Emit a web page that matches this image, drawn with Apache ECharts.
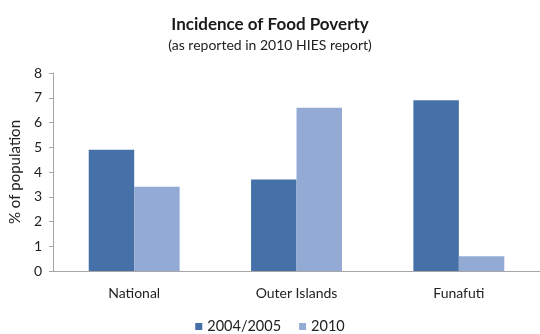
<!DOCTYPE html>
<html><head><meta charset="utf-8">
<script src="https://cdn.jsdelivr.net/npm/echarts@6/dist/echarts.min.js"></script>
<style>html,body{margin:0;padding:0;background:#fff}#c{width:540px;height:334px}</style>
</head><body><div id="c"></div>
<script>
const categories = ["National", "Outer Islands", "Funafuti"];
const series2004 = [4.9, 3.7, 6.9];
const series2010 = [3.4, 6.6, 0.6];
const seriesNames = ["2004/2005", "2010"];
const yTicks = [0, 1, 2, 3, 4, 5, 6, 7, 8];

const font = "Lato, 'Open Sans', sans-serif";
const chart = echarts.init(document.getElementById('c'), null, {renderer: 'canvas'});
chart.setOption({
  animation: false,
  backgroundColor: '#fff',
  title: {
    text: 'Incidence of Food Poverty',
    subtext: '(as reported in 2010 HIES report)',
    left: 'center', top: 11, itemGap: 5,
    textStyle: {fontFamily: font, fontSize: 17, fontWeight: 'bold', color: '#1a1a1a'},
    subtextStyle: {fontFamily: font, fontSize: 14, color: '#222'}
  },
  legend: {
    data: seriesNames, bottom: -5, left: 'center',
    itemWidth: 7, itemHeight: 7, itemGap: 18, icon: 'rect',
    textStyle: {fontFamily: font, fontSize: 14.5, color: '#222', padding: [0,0,0,0]}
  },
  grid: {left: 53, top: 73, width: 488, height: 198, containLabel: false},
  xAxis: {
    type: 'category', data: categories,
    axisLine: {lineStyle: {color: '#a6a6a6'}},
    axisTick: {show: false},
    axisLabel: {fontFamily: font, fontSize: 14, color: '#222', margin: 15}
  },
  yAxis: {
    type: 'value', min: yTicks[0], max: yTicks[yTicks.length-1], interval: 1,
    name: '% of population', nameLocation: 'middle', nameGap: 22,
    nameTextStyle: {fontFamily: font, fontSize: 15, color: '#222'},
    axisLine: {show: true, lineStyle: {color: '#a6a6a6'}},
    axisTick: {show: true, length: 4, lineStyle: {color: '#a6a6a6'}},
    splitLine: {show: false},
    axisLabel: {fontFamily: font, fontSize: 14, color: '#222', margin: 11}
  },
  series: [
    {name: seriesNames[0], type: 'bar', data: series2004, barGap: '0%', barCategoryGap: '44%',
     itemStyle: {color: '#4671a8'}},
    {name: seriesNames[1], type: 'bar', data: series2010, barGap: '0%', barCategoryGap: '44%',
     itemStyle: {color: '#93aad4'}}
  ]
});
</script></body></html>
